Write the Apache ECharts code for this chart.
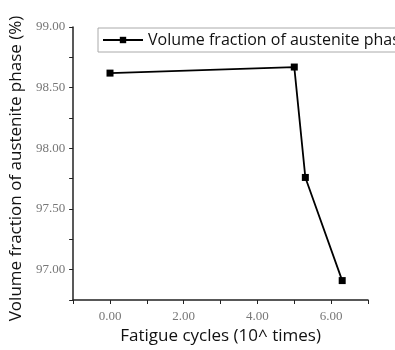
<!DOCTYPE html>
<html><head><meta charset="utf-8">
<script src="https://cdn.jsdelivr.net/npm/echarts@6/dist/echarts.min.js"></script>
<style>html,body{margin:0;padding:0;background:#fff}#c{width:395px;height:350px}</style>
</head><body><div id="c"></div>
<script>
const cycles = [0, 5.0, 5.3, 6.3];
const fraction = [98.62, 98.67, 97.76, 96.91];
const seriesName = 'Volume fraction of austenite phase';
const xTicks = [0, 2, 4, 6];
const yTicks = [97.0, 97.5, 98.0, 98.5, 99.0];

const chart = echarts.init(document.getElementById('c'));
const tickFont = {fontFamily: 'Liberation Serif', fontSize: 13, color: '#777'};
chart.setOption({
  animation: false,
  grid: {left: 71, right: 27, top: 27, bottom: 50},
  legend: {
    left: 98, top: 28,
    data: [seriesName],
    borderColor: '#aaa', borderWidth: 1,
    padding: [4, 4],
    itemWidth: 40, itemHeight: 8, itemGap: 4,
    textStyle: {fontFamily: 'Open Sans', fontSize: 16, color: '#111'}
  },
  xAxis: {
    type: 'value', min: -1, max: 7, interval: 1,
    name: 'Fatigue cycles (10^ times)', nameLocation: 'middle', nameGap: 27,
    nameTextStyle: {fontFamily: 'Open Sans', fontSize: 17, color: '#111'},
    axisLine: {onZero: false, lineStyle: {color: '#222', width: 1.5}},
    axisTick: {show: true, length: 4, lineStyle: {color: '#222'}},
    splitLine: {show: false},
    axisLabel: Object.assign({margin: 10, formatter: v => xTicks.includes(v) ? v.toFixed(2) : ''}, tickFont)
  },
  yAxis: {
    type: 'value', min: 96.75, max: 99.0, interval: 0.25,
    name: 'Volume fraction of austenite phase (%)', nameLocation: 'middle', nameGap: 44,
    nameTextStyle: {fontFamily: 'Open Sans', fontSize: 17, color: '#111', padding: [0, 10, 0, 0]},
    axisLine: {show: true, onZero: false, lineStyle: {color: '#222', width: 1.5}},
    axisTick: {show: true, length: 4, lineStyle: {color: '#222'}},
    splitLine: {show: false},
    axisLabel: Object.assign({margin: 8, formatter: v => yTicks.some(t => Math.abs(t - v) < 1e-6) ? v.toFixed(2) : ''}, tickFont)
  },
  series: [{
    name: seriesName, type: 'line',
    data: cycles.map((c, i) => [c, fraction[i]]),
    symbol: 'rect', symbolSize: 7,
    itemStyle: {color: '#000'},
    lineStyle: {color: '#000', width: 1.8}
  }]
});
</script></body></html>
